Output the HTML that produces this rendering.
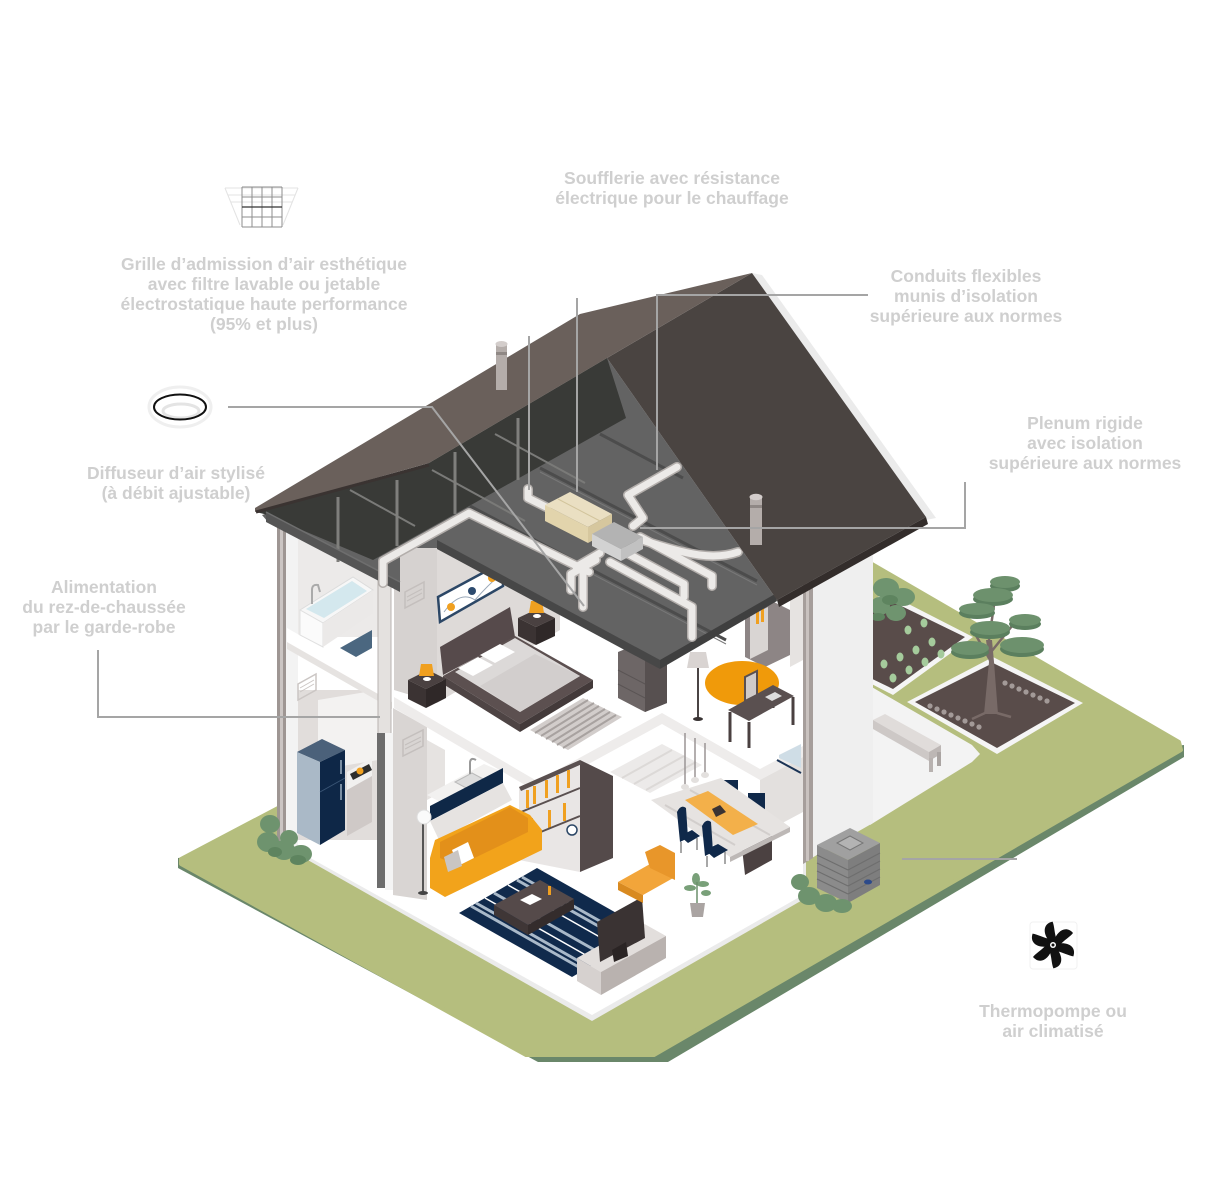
<!DOCTYPE html>
<html><head><meta charset="utf-8">
<style>
html,body{margin:0;padding:0;background:#fff;}
svg{display:block;}
.t{font-family:"Liberation Sans",sans-serif;font-weight:bold;font-size:17.5px;fill:#cfcfcf;text-anchor:middle;}
</style></head><body>
<svg width="1208" height="1196" viewBox="0 0 1208 1196" xmlns="http://www.w3.org/2000/svg">
<rect width="1208" height="1196" fill="#fff"/>

<!-- GREEN LOT -->
<polygon points="178,858 178,868 538,1062 668,1062 1184,757 1184,745" fill="#6a876a"/>
<polygon points="181,859 810,528 1179,742 1181,750 654,1055 526,1055 181,864" fill="#b5be7e" stroke="#b5be7e" stroke-width="4" stroke-linejoin="round"/>

<!-- patio -->
<polygon points="870,686 972,745 980,754 972,762 870,825" fill="#f3f3f3"/>

<!-- bench -->
<polygon points="873,720 885,714 941,745 929,752" fill="#e0dcda"/>
<polygon points="873,720 929,752 929,761 873,729" fill="#cdc8c6"/>
<polygon points="929,752 941,745 941,754 929,761" fill="#bdb7b5"/>
<rect x="929" y="758" width="4" height="14" fill="#b8b2b0"/>
<rect x="937" y="752" width="4" height="14" fill="#aaa4a2"/>

<!-- garden bed 1 -->
<polygon points="885,592 973,637 893,695 806,650" fill="#f5f5f5"/>
<polygon points="885,598 965,637 893,689 812,650" fill="#594c4a"/>
<g fill="#a5cb9c">
<ellipse cx="884" cy="664" rx="3.5" ry="4.5"/><ellipse cx="900" cy="657" rx="3.5" ry="4.5"/><ellipse cx="916" cy="650" rx="3.5" ry="4.5"/><ellipse cx="932" cy="642" rx="3.5" ry="4.5"/>
<ellipse cx="893" cy="678" rx="3.5" ry="4.5"/><ellipse cx="909" cy="670" rx="3.5" ry="4.5"/><ellipse cx="925" cy="662" rx="3.5" ry="4.5"/><ellipse cx="941" cy="654" rx="3.5" ry="4.5"/>
<ellipse cx="908" cy="630" rx="3.5" ry="4.5"/><ellipse cx="924" cy="623" rx="3.5" ry="4.5"/>
</g>
<g fill="#6f946f">
<ellipse cx="886" cy="588" rx="13" ry="10"/><ellipse cx="903" cy="597" rx="12" ry="9"/><ellipse cx="880" cy="606" rx="10" ry="9"/><ellipse cx="896" cy="613" rx="10" ry="8"/>
</g>
<g fill="#5e845f"><ellipse cx="890" cy="600" rx="8" ry="5"/><ellipse cx="878" cy="617" rx="7" ry="4"/></g>

<!-- garden bed 2 -->
<polygon points="993,657 1083,703 997,754 907,702" fill="#f5f5f5"/>
<polygon points="993,663 1075,703 997,748 915,702" fill="#594c4a"/>
<g fill="#a39a98">
<circle cx="930" cy="706" r="2.6"/><circle cx="937" cy="709" r="2.6"/><circle cx="944" cy="712" r="2.6"/><circle cx="951" cy="715" r="2.6"/><circle cx="958" cy="718" r="2.6"/><circle cx="965" cy="721" r="2.6"/><circle cx="972" cy="724" r="2.6"/><circle cx="979" cy="727" r="2.6"/>
<circle cx="1005" cy="683" r="2.6"/><circle cx="1012" cy="686" r="2.6"/><circle cx="1019" cy="689" r="2.6"/><circle cx="1026" cy="692" r="2.6"/><circle cx="1033" cy="695" r="2.6"/><circle cx="1040" cy="698" r="2.6"/><circle cx="1047" cy="701" r="2.6"/>
</g>
<!-- tree -->
<path d="M984,714 L989,662 L986,640 L992,640 L994,662 L998,714 Z" fill="#786a67"/>
<g stroke="#786a67" stroke-width="2.5" fill="none">
<line x1="990" y1="660" x2="974" y2="632"/><line x1="991" y1="652" x2="1012" y2="626"/><line x1="989" y1="640" x2="995" y2="598"/><line x1="985" y1="713" x2="972" y2="719"/><line x1="997" y1="713" x2="1011" y2="717"/>
</g>
<g fill="#5b7f5e">
<ellipse cx="1005" cy="586" rx="15" ry="6"/><ellipse cx="993" cy="599" rx="20" ry="7"/><ellipse cx="977" cy="613" rx="18" ry="6"/><ellipse cx="1025" cy="624" rx="16" ry="6"/><ellipse cx="990" cy="632" rx="20" ry="7"/><ellipse cx="1022" cy="649" rx="22" ry="8"/><ellipse cx="970" cy="652" rx="19" ry="7"/>
</g>
<g fill="#6d916d">
<ellipse cx="1005" cy="582" rx="15" ry="6"/><ellipse cx="993" cy="595" rx="20" ry="7"/><ellipse cx="977" cy="609" rx="18" ry="6"/><ellipse cx="1025" cy="620" rx="16" ry="6"/><ellipse cx="990" cy="628" rx="20" ry="7"/><ellipse cx="1022" cy="645" rx="22" ry="8"/><ellipse cx="970" cy="648" rx="19" ry="7"/>
</g>

<!-- HOUSE BASE -->
<polygon points="283,846 592,1021 806,898 806,540 283,540" fill="#ebebeb"/>
<polygon points="287,845 592,1015 803,895 803,540 287,540" fill="#fff"/>

<!-- left exterior wall -->
<rect x="277" y="516" width="3" height="340" fill="#9e9693"/>
<rect x="280" y="516" width="3" height="340" fill="#cbc5c3"/>
<rect x="283" y="516" width="3" height="340" fill="#9e9693"/>
<rect x="286" y="516" width="12" height="338" fill="#f3f3f3"/>

<!-- left rooms -->
<rect x="298" y="525" width="80" height="112" fill="#eceae9"/>
<rect x="298" y="690" width="80" height="150" fill="#e1dddb"/>
<polygon points="318,700 378,690 378,760 318,770" fill="#f3f2f1"/>
<polygon points="298,684 316,674 316,690 298,700" fill="none" stroke="#cbc6c4" stroke-width="1.5"/>
<line x1="300" y1="688" x2="314" y2="680" stroke="#cbc6c4"/><line x1="300" y1="692" x2="314" y2="684" stroke="#cbc6c4"/>
<!-- bath slab -->
<polygon points="287,628 392,688 392,707 287,647" fill="#fff"/>
<polygon points="287,642 392,702 392,709 287,649" fill="#e6e3e1"/>
<!-- bathtub -->
<polygon points="300,610 353,577 373,590 323,623" fill="#f7f7f7" stroke="#dcdcdc" stroke-width="1"/>
<polygon points="306,609 352,581 367,591 324,618" fill="#d4e8ee"/>
<polygon points="300,610 323,623 323,647 300,635" fill="#fbfbfb" stroke="#e0e0e0" stroke-width="1"/>
<polygon points="323,623 373,590 373,613 323,647" fill="#ebe9e8"/>
<path d="M312,604 L312,590 Q312,584 318,585 L320,592" fill="none" stroke="#aaa" stroke-width="2"/>
<polygon points="340,648 372,630 372,648 356,657" fill="#4b6780"/>
<!-- fridge -->
<polygon points="297,752 322,739 345,750 320,762" fill="#4b617a"/>
<polygon points="297,752 320,762 320,845 297,833" fill="#aab9c7"/>
<polygon points="320,762 345,750 345,830 320,845" fill="#0e2747"/>
<line x1="320" y1="792" x2="345" y2="778" stroke="#3a5575" stroke-width="1"/>
<line x1="341" y1="760" x2="341" y2="774" stroke="#9fb0c2" stroke-width="1.5"/>
<line x1="341" y1="784" x2="341" y2="800" stroke="#9fb0c2" stroke-width="1.5"/>
<!-- stove -->
<polygon points="347,772 372,758 372,790 347,804" fill="#f1f0ef"/>
<polygon points="350,774 369,764 372,770 353,780" fill="#2e2e2e"/>
<circle cx="360" cy="771" r="3.5" fill="#f0a020"/>
<polygon points="347,790 372,776 372,822 347,836" fill="#cfc9c7"/>

<!-- partition -->
<polygon points="394,540 437,538 437,703 394,690" fill="#d6d2d0"/>
<rect x="378" y="545" width="13" height="190" fill="#e4e1df" stroke="#b8b3b0" stroke-width="1"/>
<rect x="377" y="733" width="8" height="155" fill="#6d6d6d"/>
<rect x="385" y="733" width="9" height="157" fill="#f4f4f4"/>
<polygon points="405,592 424,582 424,598 405,608" fill="none" stroke="#c4bfbd" stroke-width="1.5"/>
<line x1="407" y1="597" x2="422" y2="589" stroke="#c4bfbd"/><line x1="407" y1="601" x2="422" y2="593" stroke="#c4bfbd"/>
<polygon points="393,708 427,727 427,900 393,895" fill="#d9d5d3"/>
<polygon points="403,740 423,730 423,746 403,756" fill="none" stroke="#c4bfbd" stroke-width="1.5"/>
<line x1="405" y1="745" x2="421" y2="737" stroke="#c4bfbd"/><line x1="405" y1="749" x2="421" y2="741" stroke="#c4bfbd"/>

<!-- bedroom back wall -->
<polygon points="437,538 560,605 560,630 437,703" fill="#dedad8"/>
<!-- painting -->
<polygon points="438,597 503,562 503,586 440,622" fill="#fff" stroke="#2c4766" stroke-width="2.5"/>
<path d="M444,612 Q460,590 475,600 Q488,585 500,575" fill="none" stroke="#9aa8b8" stroke-width="1"/>
<circle cx="451" cy="607" r="4" fill="#f0a020"/><circle cx="472" cy="591" r="4" fill="#2c4a6e"/><circle cx="492" cy="578" r="4" fill="#f0a020"/>

<!-- bed -->
<polygon points="440,647 510,607 515,637 443,675" fill="#564a4b"/>
<polygon points="443,676 515,636 593,680 520,724" fill="#5c5050"/>
<polygon points="443,676 520,724 520,732 443,684" fill="#4e4444"/>
<polygon points="520,724 593,680 593,688 520,732" fill="#433a3a"/>
<polygon points="455,672 515,638 580,676 520,712" fill="#dcd9d8"/>
<polygon points="480,686 535,654 580,676 520,712" fill="#d2cecd"/>
<polygon points="458,668 478,657 493,665 473,676" fill="#fff"/>
<polygon points="480,655 500,644 515,652 495,663" fill="#fff"/>
<!-- nightstands -->
<polygon points="408,680 428,670 446,679 426,689" fill="#4a4141"/>
<polygon points="408,680 426,689 426,708 408,699" fill="#3b3333"/>
<polygon points="426,689 446,679 446,698 426,708" fill="#2f2828"/>
<polygon points="421,664 432,664 434,676 419,676" fill="#f0a020"/>
<ellipse cx="427" cy="679" rx="4" ry="2" fill="#fff"/>
<polygon points="518,618 537,609 555,618 536,627" fill="#4a4141"/>
<polygon points="518,618 536,627 536,645 518,636" fill="#3b3333"/>
<polygon points="536,627 555,618 555,636 536,645" fill="#2f2828"/>
<polygon points="531,601 542,601 544,613 529,613" fill="#f0a020"/>
<ellipse cx="537" cy="616" rx="4" ry="2" fill="#fff"/>
<!-- upper rug -->
<polygon points="530,730 583,698 622,717 568,750" fill="#d2cdcb"/>
<g stroke="#a8a2a0" stroke-width="2">
<line x1="535" y1="733" x2="588" y2="700"/><line x1="541" y1="736" x2="594" y2="703"/><line x1="546" y1="739" x2="599" y2="706"/><line x1="552" y1="742" x2="605" y2="709"/><line x1="557" y1="745" x2="610" y2="712"/><line x1="563" y1="748" x2="616" y2="715"/>
</g>
<!-- dresser -->
<polygon points="618,652 640,643 667,657 667,703 645,712 618,698" fill="#6d6666"/>
<polygon points="645,660 667,650 667,703 645,712" fill="#575050"/>
<g stroke="#5a5454" stroke-width="1"><line x1="618" y1="670" x2="645" y2="684"/><line x1="618" y1="684" x2="645" y2="698"/></g>
<!-- right back wall & bookcase upper -->
<polygon points="790,597 803,590 803,660 790,667" fill="#e6e3e1"/>
<polygon points="745,612 770,600 790,610 790,655 765,667 745,657" fill="#8d8585"/>
<polygon points="750,616 768,607 768,650 750,659" fill="#d9d5d3"/>
<rect x="756" y="610" width="3" height="14" fill="#f0a020"/><rect x="761" y="608" width="3" height="14" fill="#f0a020"/>
<!-- floor lamp upper -->
<polygon points="690,652 706,652 709,668 687,668" fill="#d9d4d2"/>
<line x1="698" y1="668" x2="698" y2="718" stroke="#4a4444" stroke-width="2"/>
<ellipse cx="698" cy="719" rx="5" ry="2" fill="#3a3434"/>
<!-- round rug, table -->
<ellipse cx="742" cy="683" rx="37" ry="22" fill="#f09a0a"/>
<polygon points="745,677 757,671 757,695 745,701" fill="#cfcac8" stroke="#5a5050" stroke-width="2"/>
<g stroke="#4a4040" stroke-width="3">
<line x1="730" y1="712" x2="730" y2="742"/><line x1="749" y1="722" x2="749" y2="748"/><line x1="793" y1="697" x2="793" y2="725"/><line x1="773" y1="688" x2="773" y2="708"/>
</g>
<polygon points="728,710 773,685 794,696 749,721" fill="#5a5050"/>
<polygon points="765,697 775,692 782,696 772,701" fill="#ddd"/>

<!-- 2nd floor slab edge -->
<polygon points="394,697 537,781 662,713 760,769 803,746 803,757 760,780 662,724 537,792 394,708" fill="#eeeceb"/>

<!-- GF back areas -->
<polygon points="610,772 662,744 702,765 650,793" fill="#eceae9"/>
<g stroke="#dcd9d7" stroke-width="2"><line x1="622" y1="778" x2="672" y2="750"/><line x1="634" y1="784" x2="684" y2="756"/><line x1="646" y1="790" x2="696" y2="762"/></g>
<polygon points="760,780 803,757 803,812 760,835" fill="#e3e0de"/>
<line x1="777" y1="760" x2="801" y2="773" stroke="#1a3355" stroke-width="2"/>
<polygon points="779,755 801,744 801,768 779,758" fill="#cfdde6"/>

<!-- kitchen -->
<polygon points="427,740 445,750 445,790 427,800" fill="#e6e3e1"/>
<polygon points="427,795 484,764 503,772 446,805" fill="#f2f1f0"/>
<polygon points="455,782 472,773 487,781 470,790" fill="#dcdcdc" stroke="#bbb" stroke-width="1"/>
<path d="M470,774 L470,762 Q471,757 476,760" fill="none" stroke="#999" stroke-width="2"/>
<polygon points="430,806 503,768 503,783 430,821" fill="#0f2847"/>
<polygon points="430,821 503,783 512,800 439,840" fill="#e6e3e1"/>
<!-- bookshelf -->
<polygon points="519,787 580,760 580,872 519,860" fill="#e9e6e5"/>
<polygon points="580,760 613,776 613,858 580,872" fill="#544a4a"/>
<polygon points="519,787 580,760 582,764 521,791" fill="#5a5050"/>
<g fill="#f0a020">
<rect x="526" y="790" width="3" height="18"/><rect x="533" y="786" width="3" height="18"/><rect x="545" y="780" width="3" height="18"/><rect x="556" y="775" width="3" height="18"/><rect x="567" y="770" width="3" height="18"/>
<rect x="530" y="818" width="3" height="18"/><rect x="548" y="810" width="3" height="18"/><rect x="563" y="803" width="3" height="18"/>
</g>
<g stroke="#5a5050" stroke-width="2"><line x1="521" y1="812" x2="580" y2="788"/><line x1="521" y1="840" x2="580" y2="816"/></g>
<circle cx="572" cy="830" r="5" fill="#fff" stroke="#2c4766" stroke-width="1.5"/>
<!-- sofa -->
<polygon points="430,858 435,840 510,805 530,815 542,830 542,850 445,897 430,888" fill="#f2a31b"/>
<polygon points="440,842 510,807 528,818 528,832 458,866 440,858" fill="#e3901a"/>
<polygon points="452,850 468,842 474,858 458,866" fill="#fff"/>
<polygon points="444,857 458,850 462,866 448,872" fill="#c9c5c3"/>
<!-- floor lamp GF -->
<line x1="423" y1="818" x2="423" y2="893" stroke="#555" stroke-width="2"/>
<ellipse cx="423" cy="893" rx="5" ry="2" fill="#444"/>
<circle cx="424" cy="817" r="7" fill="#fafafa" stroke="#dddddd"/>
<!-- living rug -->
<polygon points="459,913 537,868 650,932 572,977" fill="#102a4c"/>
<g stroke="#a9b9c9" stroke-width="3">
<line x1="471" y1="906" x2="584" y2="970"/><line x1="476" y1="903" x2="589" y2="967"/><line x1="494" y1="893" x2="607" y2="957"/><line x1="517" y1="880" x2="630" y2="944"/><line x1="522" y1="877" x2="635" y2="941"/>
</g>
<g stroke="#fff" stroke-width="1.5"><line x1="485" y1="898" x2="598" y2="962"/><line x1="508" y1="885" x2="621" y2="949"/></g>
<!-- coffee table -->
<polygon points="494,905 540,880 574,899 528,925" fill="#554a4a"/>
<polygon points="494,905 528,925 528,935 494,915" fill="#3f3636"/>
<polygon points="528,925 574,899 574,909 528,935" fill="#342c2c"/>
<polygon points="520,900 532,894 542,899 530,905" fill="#fff"/>
<rect x="548" y="886" width="3" height="9" fill="#f0a020"/>
<!-- TV stand / TV -->
<polygon points="577,958 641,922 666,936 601,972" fill="#e2dedc"/>
<polygon points="577,958 601,972 601,995 577,981" fill="#d6d1cf"/>
<polygon points="601,972 666,936 666,958 601,995" fill="#b9b2af"/>
<polygon points="597,922 642,897 645,938 600,962" fill="#3a3333"/>
<polygon points="612,950 626,942 628,956 614,962" fill="#2a2424"/>
<!-- armchair -->
<polygon points="618,882 650,864 675,877 643,895" fill="#f2a53a"/>
<polygon points="645,852 660,845 675,853 675,880 650,868" fill="#e8962a"/>
<polygon points="618,882 643,895 643,903 618,890" fill="#d98a20"/>
<!-- plant -->
<polygon points="690,903 705,903 703,917 692,917" fill="#aaa4a2"/>
<g fill="#79a079"><ellipse cx="690" cy="888" rx="6" ry="3"/><ellipse cx="703" cy="884" rx="6" ry="3"/><ellipse cx="696" cy="879" rx="4" ry="6"/><ellipse cx="706" cy="893" rx="5" ry="3"/></g>
<line x1="697" y1="903" x2="697" y2="882" stroke="#6a8f6a" stroke-width="1.5"/>
<!-- pendant lamps -->
<g stroke="#9a9494" stroke-width="1.5"><line x1="685" y1="733" x2="685" y2="785"/><line x1="695" y1="738" x2="695" y2="778"/><line x1="705" y1="743" x2="705" y2="773"/></g>
<g fill="#e3e0de"><ellipse cx="685" cy="787" rx="4" ry="3"/><ellipse cx="695" cy="780" rx="4" ry="3"/><ellipse cx="705" cy="775" rx="4" ry="3"/></g>
<!-- dining -->
<polygon points="742,848 772,832 772,860 745,875" fill="#4b4141"/>
<polygon points="722,780 738,780 738,797 722,797" fill="#10294a"/>
<polygon points="748,793 765,793 765,812 748,812" fill="#10294a"/>
<polygon points="651,800 721,778 790,827 730,857" fill="#e6e3e1"/>
<polygon points="730,857 790,827 790,832 730,862" fill="#bdb8b6"/>
<g stroke="#d2cecc" stroke-width="2"><line x1="665" y1="805" x2="735" y2="845"/><line x1="690" y1="790" x2="770" y2="835"/></g>
<polygon points="685,800 708,791 758,824 733,835" fill="#f3b04a"/>
<polygon points="712,809 720,805 726,812 716,817" fill="#3a3333"/>
<g fill="#10294a">
<path d="M677,812 Q681,804 686,808 L688,838 L680,842 Z"/>
<polygon points="680,836 692,830 700,836 688,843"/>
<path d="M702,826 Q706,818 711,822 L713,852 L705,856 Z"/>
<polygon points="705,850 718,844 728,850 714,858"/>
</g>
<g stroke="#8a8a8a" stroke-width="1.5"><line x1="681" y1="842" x2="681" y2="853"/><line x1="697" y1="838" x2="697" y2="850"/><line x1="707" y1="856" x2="707" y2="867"/><line x1="725" y1="852" x2="725" y2="864"/></g>

<!-- right wall column -->
<polygon points="803,525 873,515 873,823 803,863" fill="#efefef"/>
<polygon points="803,525 813,524 813,858 803,864" fill="#a69e9b"/>
<rect x="806" y="525" width="3" height="336" fill="#c9c2bf"/>

<!-- left shrubs -->
<g fill="#6e936e"><ellipse cx="270" cy="824" rx="10" ry="9"/><ellipse cx="268" cy="842" rx="11" ry="10"/><ellipse cx="284" cy="850" rx="11" ry="10"/><ellipse cx="301" cy="854" rx="11" ry="9"/><ellipse cx="289" cy="838" rx="9" ry="8"/></g>
<g fill="#5e845f"><ellipse cx="275" cy="852" rx="7" ry="5"/><ellipse cx="298" cy="860" rx="8" ry="5"/></g>

<!-- AC unit -->
<polygon points="817,845 850,828 880,843 848,860" fill="#a0a0a0"/>
<polygon points="817,845 848,860 848,903 817,888" fill="#8b8b8b"/>
<polygon points="848,860 880,843 880,885 848,903" fill="#7e7e7e"/>
<polygon points="837,843 850,836 863,843 850,850" fill="#b3b3b3" stroke="#777" stroke-width="1"/>
<g stroke="#6e6e6e" stroke-width="1.2">
<line x1="817" y1="855" x2="848" y2="870"/><line x1="817" y1="863" x2="848" y2="878"/><line x1="817" y1="871" x2="848" y2="886"/><line x1="817" y1="879" x2="848" y2="894"/>
<line x1="848" y1="870" x2="880" y2="853"/><line x1="848" y1="878" x2="880" y2="861"/><line x1="848" y1="886" x2="880" y2="869"/><line x1="848" y1="894" x2="880" y2="877"/>
</g>
<ellipse cx="868" cy="882" rx="4" ry="2.5" fill="#2c4a8a"/>
<g fill="#6e936e"><ellipse cx="800" cy="882" rx="9" ry="8"/><ellipse cx="809" cy="896" rx="11" ry="9"/><ellipse cx="826" cy="903" rx="11" ry="9"/><ellipse cx="842" cy="906" rx="10" ry="7"/></g>

<!-- ROOF / ATTIC -->
<polygon points="262,515 429,463 607,358 777,600 660,668 437,548 400,548 400,590 268,522" fill="#636363"/>
<polygon points="256,512 429,463 607,358 626,418 373,560 264,514" fill="#393a37"/>
<g stroke="#7a7a78" stroke-width="2">
<line x1="350" y1="490" x2="415" y2="526"/><line x1="432" y1="470" x2="525" y2="521"/><line x1="495" y1="434" x2="585" y2="483"/>
</g>
<g stroke="#4c4c4c" stroke-width="3">
<line x1="470" y1="506" x2="726" y2="640"/><line x1="540" y1="468" x2="757" y2="581"/><line x1="600" y1="434" x2="683" y2="478"/>
</g>
<g stroke="#787878" stroke-width="1"><line x1="470" y1="510" x2="726" y2="644"/><line x1="540" y1="472" x2="757" y2="585"/></g>
<g stroke="#7f7f7c" stroke-width="3">
<line x1="338" y1="497" x2="338" y2="562"/><line x1="397" y1="480" x2="397" y2="546"/><line x1="455" y1="452" x2="455" y2="514"/><line x1="518" y1="418" x2="518" y2="480"/>
</g>
<!-- slab front faces -->
<polygon points="266,512 400,582 400,592 266,522" fill="#555555"/>
<line x1="266" y1="512" x2="400" y2="582" stroke="#6e6e6e" stroke-width="1.5"/>
<polygon points="437,540 660,660 660,669 437,549" fill="#474747"/>
<polygon points="660,660 775,594 777,601 660,669" fill="#3f3f3f"/>

<!-- ducts -->
<g fill="none" stroke-linecap="round" stroke-linejoin="round">
<g stroke="#b3aeab" stroke-width="10">
<path d="M383,583 L383,561 L469,513 L589,572"/>
<path d="M677,467 L628,495 L643,518 L633,526"/>
<path d="M546,507 L528,498 L528,489"/>
<path d="M600,553 L576,567 L583,571 L583,607"/>
<path d="M596,560 L571,574 L571,590"/>
<path d="M610,562 L692,607 L692,637"/>
<path d="M625,552 L684,584 L684,597"/>
<path d="M640,537 L712,576 L712,586"/>
<path d="M642,540 C690,556 715,560 738,552"/>
</g>
<g stroke="#eceae8" stroke-width="7">
<path d="M383,583 L383,561 L469,513 L589,572"/>
<path d="M677,467 L628,495 L643,518 L633,526"/>
<path d="M546,507 L528,498 L528,489"/>
<path d="M600,553 L576,567 L583,571 L583,607"/>
<path d="M596,560 L571,574 L571,590"/>
<path d="M610,562 L692,607 L692,637"/>
<path d="M625,552 L684,584 L684,597"/>
<path d="M640,537 L712,576 L712,586"/>
<path d="M642,540 C690,556 715,560 738,552"/>
</g>
</g>
<!-- blower -->
<polygon points="545,505 570,492 612,514 588,527" fill="#eadfc2"/>
<polygon points="545,505 588,527 588,543 545,521" fill="#e2d4ac"/>
<polygon points="588,527 612,514 612,530 588,543" fill="#d6c79e"/>
<line x1="558" y1="499" x2="600" y2="521" stroke="#d2c49c" stroke-width="1"/>
<!-- plenum -->
<polygon points="592,534 614,522 643,537 621,549" fill="#b3b3b3"/>
<polygon points="592,534 621,549 621,561 592,546" fill="#d2d2d2"/>
<polygon points="621,549 643,537 643,549 621,561" fill="#c1c1c1"/>

<!-- right roof plane -->
<polygon points="752,273 762,275 936,518 926,520" fill="#ebebeb"/>
<polygon points="752,273 926,517 777,600 607,358" fill="#4a4441"/>
<polygon points="926,517 928,524 779,607 777,600" fill="#332d2b"/>
<!-- upper roof band -->
<polygon points="255,508 580,314 752,273 607,358 429,463 255,512" fill="#6a605b"/>
<line x1="256" y1="512" x2="429" y2="465" stroke="#3a3331" stroke-width="3"/>
<!-- chimney pipes -->
<rect x="496" y="344" width="11" height="46" fill="#b4adaa"/>
<rect x="496" y="352" width="11" height="3" fill="#8f8885"/>
<ellipse cx="501.5" cy="344" rx="6" ry="3" fill="#d3cdcb"/>
<rect x="750" y="497" width="12" height="48" fill="#b4adaa"/>
<rect x="750" y="505" width="12" height="3" fill="#8f8885"/>
<ellipse cx="756" cy="497" rx="6.5" ry="3.2" fill="#d3cdcb"/>

<!-- CONNECTOR LINES -->
<g fill="none" stroke="#a5a5a5" stroke-width="2">
<polyline points="228,407 432,407 584,606"/>
<line x1="529" y1="336" x2="529" y2="490"/>
<line x1="577" y1="298" x2="577" y2="492"/>
<polyline points="868,295 657,295 657,470"/>
<polyline points="640,528 965,528 965,482"/>
<polyline points="98,650 98,717 380,717"/>
<line x1="902" y1="859" x2="1017" y2="859"/>
</g>

<!-- ICONS -->
<g stroke="#e3e3e3" stroke-width="1" fill="none">
<line x1="225" y1="188" x2="298" y2="188"/>
<line x1="225" y1="188" x2="240" y2="225"/>
<line x1="298" y1="188" x2="283" y2="225"/>
<line x1="228" y1="195" x2="295" y2="195"/>
<line x1="231" y1="202" x2="292" y2="202"/>
</g>
<g stroke="#8d8d8d" stroke-width="1">
<line x1="242" y1="187" x2="242" y2="227"/><line x1="252" y1="187" x2="252" y2="227"/><line x1="262" y1="187" x2="262" y2="227"/><line x1="272" y1="187" x2="272" y2="227"/><line x1="282" y1="187" x2="282" y2="227"/>
<line x1="242" y1="187" x2="282" y2="187"/><line x1="242" y1="197" x2="282" y2="197"/><line x1="242" y1="217" x2="282" y2="217"/><line x1="242" y1="227" x2="282" y2="227"/>
</g>
<line x1="242" y1="207" x2="282" y2="207" stroke="#333" stroke-width="1.2"/>

<ellipse cx="180" cy="407" rx="31" ry="20" fill="#fff" stroke="#efefef" stroke-width="3"/>
<ellipse cx="181" cy="411" rx="18" ry="7" fill="none" stroke="#e4e4e4" stroke-width="3"/>
<ellipse cx="180" cy="407" rx="26" ry="12.5" fill="none" stroke="#111" stroke-width="2"/>

<rect x="1030" y="922" width="47" height="47" rx="3" fill="#fff" stroke="#f1f1f1" stroke-width="1"/>
<g transform="translate(1053,945)" fill="#111">
<path id="bl" d="M1,-4 C4,-14 13,-20 20,-12 C17,-8 11,-5 6,1 Z"/>
<path d="M1,-4 C4,-14 13,-20 20,-12 C17,-8 11,-5 6,1 Z" transform="rotate(60)"/>
<path d="M1,-4 C4,-14 13,-20 20,-12 C17,-8 11,-5 6,1 Z" transform="rotate(120)"/>
<path d="M1,-4 C4,-14 13,-20 20,-12 C17,-8 11,-5 6,1 Z" transform="rotate(180)"/>
<path d="M1,-4 C4,-14 13,-20 20,-12 C17,-8 11,-5 6,1 Z" transform="rotate(240)"/>
<path d="M1,-4 C4,-14 13,-20 20,-12 C17,-8 11,-5 6,1 Z" transform="rotate(300)"/>
<circle r="6"/>
<circle r="3" fill="#fff"/>
<circle r="1.5"/>
</g>

<!-- TEXT -->
<text class="t" x="672" y="184">Soufflerie avec résistance</text>
<text class="t" x="672" y="204">électrique pour le chauffage</text>
<text class="t" x="264" y="270">Grille d’admission d’air esthétique</text>
<text class="t" x="264" y="290">avec filtre lavable ou jetable</text>
<text class="t" x="264" y="310">électrostatique haute performance</text>
<text class="t" x="264" y="330">(95% et plus)</text>
<text class="t" x="966" y="282">Conduits flexibles</text>
<text class="t" x="966" y="302">munis d’isolation</text>
<text class="t" x="966" y="322">supérieure aux normes</text>
<text class="t" x="1085" y="429">Plenum rigide</text>
<text class="t" x="1085" y="449">avec isolation</text>
<text class="t" x="1085" y="469">supérieure aux normes</text>
<text class="t" x="176" y="479">Diffuseur d’air stylisé</text>
<text class="t" x="176" y="499">(à débit ajustable)</text>
<text class="t" x="104" y="593">Alimentation</text>
<text class="t" x="104" y="613">du rez-de-chaussée</text>
<text class="t" x="104" y="633">par le garde-robe</text>
<text class="t" x="1053" y="1017">Thermopompe ou</text>
<text class="t" x="1053" y="1037">air climatisé</text>
</svg>
</body></html>
